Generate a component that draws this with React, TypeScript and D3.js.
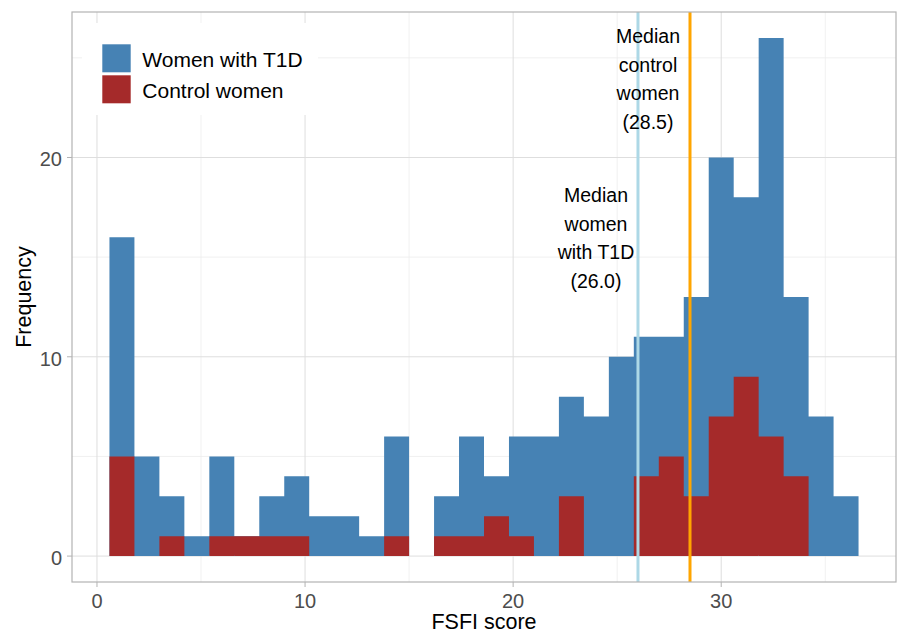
import React from "react";
import * as d3 from "d3";

const binCenters = [
  1.2, 2.4, 3.6, 4.8, 6.0, 7.2, 8.4, 9.6, 10.8, 12.0,
  13.2, 14.4, 15.6, 16.8, 18.0, 19.2, 20.4, 21.6, 22.8, 24.0,
  25.2, 26.4, 27.6, 28.8, 30.0, 31.2, 32.4, 33.6, 34.8, 36.0,
];
const binWidth = 1.2;
const t1dCounts = [
  16, 5, 3, 1, 5, 1, 3, 4, 2, 2,
  1, 6, 0, 3, 6, 4, 6, 6, 8, 7,
  10, 11, 11, 13, 20, 18, 26, 13, 7, 3,
];
const controlCounts = [
  5, 0, 1, 0, 1, 1, 1, 1, 0, 0,
  0, 1, 0, 1, 1, 2, 1, 0, 3, 0,
  0, 4, 5, 3, 7, 9, 6, 4, 0, 0,
];
const medianT1D = 26.0;
const medianControl = 28.5;
const xTicks = [0, 10, 20, 30];
const xMinor = [5, 15, 25, 35];
const yTicks = [0, 10, 20];
const yMinor = [5, 15, 25];
const seriesNames = ["Women with T1D", "Control women"];
const seriesColors = ["#4682B4", "#A52A2A"];
const labelT1D = ["Median", "women", "with T1D", "(26.0)"];
const labelControl = ["Median", "control", "women", "(28.5)"];

const W = 899;
const H = 634;
const panel = { left: 72, right: 896, top: 12, bottom: 582 };
const FONT = "'Liberation Sans', Arial, Helvetica, sans-serif";

export default function App() {
  const x = d3.scaleLinear().domain([-1.2, 38.4]).range([panel.left, panel.right]);
  const y = d3.scaleLinear().domain([-1.3, 27.3]).range([panel.bottom, panel.top]);

  const barsPath = (counts: number[]) => {
    const p = d3.path();
    counts.forEach((c, i) => {
      if (c <= 0) return;
      const x0 = x(binCenters[i] - binWidth / 2);
      const x1 = x(binCenters[i] + binWidth / 2);
      p.rect(x0, y(c), x1 - x0, y(0) - y(c));
    });
    return p.toString();
  };

  return (
    <svg
      width={W}
      height={H}
      style={{ position: "absolute", left: 0, top: 0, background: "#fff" }}
      fontFamily={FONT}
    >
      <rect x={0} y={0} width={W} height={H} fill="#fff" />
      {/* minor grid */}
      {xMinor.map((v) => (
        <line key={"xm" + v} x1={x(v)} x2={x(v)} y1={panel.top} y2={panel.bottom} stroke="#EDEDED" strokeWidth={0.8} />
      ))}
      {yMinor.map((v) => (
        <line key={"ym" + v} x1={panel.left} x2={panel.right} y1={y(v)} y2={y(v)} stroke="#EDEDED" strokeWidth={0.8} />
      ))}
      {/* major grid */}
      {xTicks.map((v) => (
        <line key={"xg" + v} x1={x(v)} x2={x(v)} y1={panel.top} y2={panel.bottom} stroke="#DEDEDE" strokeWidth={1} />
      ))}
      {yTicks.map((v) => (
        <line key={"yg" + v} x1={panel.left} x2={panel.right} y1={y(v)} y2={y(v)} stroke="#DEDEDE" strokeWidth={1} />
      ))}

      <path d={barsPath(t1dCounts)} fill={seriesColors[0]} />
      <path d={barsPath(controlCounts)} fill={seriesColors[1]} />

      <line x1={x(medianT1D)} x2={x(medianT1D)} y1={panel.top} y2={panel.bottom} stroke="#ADD8E6" strokeWidth={3} />
      <line x1={x(medianControl)} x2={x(medianControl)} y1={panel.top} y2={panel.bottom} stroke="#FFA500" strokeWidth={3} />

      {labelT1D.map((t, i) => (
        <text key={"lt" + i} x={596} y={202 + i * 28.7} textAnchor="middle" fontSize={19.5} fill="#000">
          {t}
        </text>
      ))}
      {labelControl.map((t, i) => (
        <text key={"lc" + i} x={648} y={43 + i * 28.6} textAnchor="middle" fontSize={19.5} fill="#000">
          {t}
        </text>
      ))}

      {/* legend */}
      <rect x={82} y={23} width={236} height={92} fill="#fff" />
      {seriesNames.map((n, i) => (
        <g key={"lg" + i}>
          <rect x={102.3} y={44.3 + i * 31} width={28.4} height={28} fill={seriesColors[i]} />
          <text x={142.3} y={66.7 + i * 31} fontSize={21} fill="#000">
            {n}
          </text>
        </g>
      ))}

      {/* panel border */}
      <rect
        x={panel.left}
        y={panel.top}
        width={panel.right - panel.left}
        height={panel.bottom - panel.top}
        fill="none"
        stroke="#B3B3B3"
        strokeWidth={1.2}
      />

      {/* x axis */}
      {xTicks.map((v) => (
        <g key={"xt" + v}>
          <line x1={x(v)} x2={x(v)} y1={panel.bottom} y2={panel.bottom + 5} stroke="#B3B3B3" strokeWidth={1} />
          <text x={x(v)} y={607.5} textAnchor="middle" fontSize={20} fill="#4D4D4D">
            {v}
          </text>
        </g>
      ))}
      {/* y axis */}
      {yTicks.map((v) => (
        <g key={"yt" + v}>
          <line x1={panel.left - 5} x2={panel.left} y1={y(v)} y2={y(v)} stroke="#B3B3B3" strokeWidth={1} />
          <text x={62} y={y(v) + 9} textAnchor="end" fontSize={20} fill="#4D4D4D">
            {v}
          </text>
        </g>
      ))}

      <text x={(panel.left + panel.right) / 2} y={629} textAnchor="middle" fontSize={21.5} fill="#000">
        FSFI score
      </text>
      <text
        transform={`translate(31, ${(panel.top + panel.bottom) / 2}) rotate(-90)`}
        textAnchor="middle"
        fontSize={21.5}
        fill="#000"
      >
        Frequency
      </text>
    </svg>
  );
}
